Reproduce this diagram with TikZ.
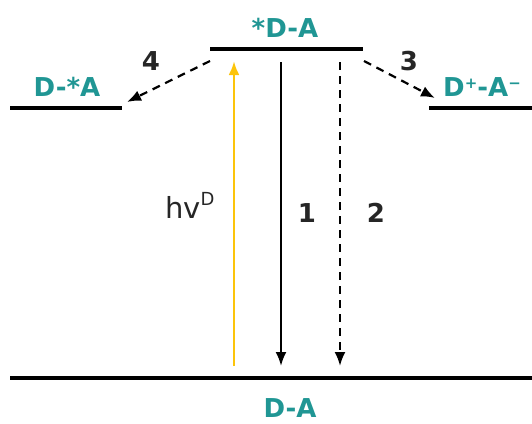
\documentclass[tikz,border=0pt]{standalone}
\usepackage{fontspec}
\usetikzlibrary{arrows.meta}
\setmainfont{DejaVu Sans}
\definecolor{tealDA}{RGB}{32,150,148}
\definecolor{amareloHV}{RGB}{252,196,10}
\begin{document}
\begin{tikzpicture}[
    x=1pt, y=-1pt,
    % Niveis de energia
    nivel/.style={line width=4.5pt},
    % Rotulos dos estados
    estado/.style={text=tealDA, font=\fontsize{26}{28}\selectfont\bfseries, inner sep=0pt},
    % Numeros dos processos
    numero/.style={text=black!85, font=\fontsize{26}{28}\selectfont\bfseries, inner sep=0pt},
    % Setas dos processos
    seta/.style={-{Latex[length=14pt,width=11pt]}, line width=2.2pt},
    tracejada/.style={seta, dash pattern=on 8pt off 6pt}
]
    \useasboundingbox (0,0) rectangle (532,423);

    % ==========================================
    % 1. NIVEIS
    % ==========================================
    \coordinate (excL) at (210,49);
    \coordinate (excR) at (363,49);
    \coordinate (locL) at (10,108);
    \coordinate (locR) at (122,108);
    \coordinate (ctL) at (429,108);
    \coordinate (ctR) at (532,108);
    \coordinate (fundL) at (10,378);
    \coordinate (fundR) at (532,378);

    \draw[nivel] (excL) -- (excR);     % *D-A
    \draw[nivel] (locL) -- (locR);     % D-*A
    \draw[nivel] (ctL) -- (ctR);       % D+-A-
    \draw[nivel] (fundL) -- (fundR);   % D-A

    % ==========================================
    % 2. ROTULOS
    % ==========================================
    \node[estado] (lexc) at (285,28) {*D-A};
    \node[estado] (lloc) at (67,87) {D-*A};
    \node[estado] (lct) at (482,87) {D\raisebox{0.55ex}{\fontsize{15}{15}\selectfont +}-A\raisebox{0.55ex}{\fontsize{15}{15}\selectfont −}};
    \node[estado] (lfund) at (290,408) {D-A};

    % ==========================================
    % 3. SETAS
    % ==========================================
    \coordinate (absB) at (234,366);
    \coordinate (absT) at (234,61);
    \coordinate (p1T) at (281,62);
    \coordinate (p1B) at (281,366);
    \coordinate (p2T) at (340,62);
    \coordinate (p2B) at (340,366);
    \coordinate (p4a) at (210,61);
    \coordinate (p4b) at (127,102);
    \coordinate (p3a) at (364,61);
    \coordinate (p3b) at (435,98);

    % Absorcao
    \draw[seta, color=amareloHV, line width=2.8pt] (absB) -- (absT);
    \node[inner sep=0pt, font=\fontsize{29}{30}\selectfont, text=black!85, anchor=base west] (hv) at (165,218) {hv\raisebox{0.42em}{\fontsize{18}{18}\selectfont D}};

    % Processos 1 a 4
    \draw[seta] (p1T) -- (p1B);
    \draw[tracejada] (p2T) -- (p2B);
    \draw[tracejada] (p4a) -- (p4b);
    \draw[tracejada] (p3a) -- (p3b);

    \node[numero] (n1) at (307,213) {1};
    \node[numero] (n2) at (376,213) {2};
    \node[numero] (n3) at (409,61) {3};
    \node[numero] (n4) at (151,61) {4};

\end{tikzpicture}
\end{document}
